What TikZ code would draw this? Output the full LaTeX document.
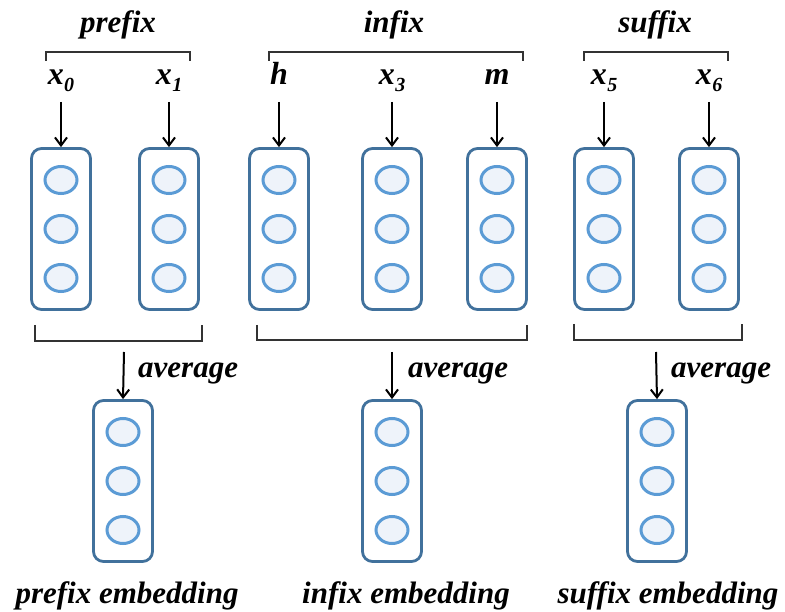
\documentclass[tikz,border=0pt]{standalone}
\usepackage{fontspec}
\setmainfont{Liberation Serif}
\newfontfamily\lbi{Liberation Serif}[UprightFont={* Bold Italic}]
\usetikzlibrary{arrows.meta,shapes.geometric}
\definecolor{boxc}{HTML}{41719C}
\definecolor{circc}{HTML}{5B9BD5}
\definecolor{fillc}{HTML}{EEF3FA}
\definecolor{brk}{HTML}{333333}
\newcommand{\xsub}[1]{x\kern0.5pt\raisebox{-7pt}{\fontsize{20}{20}\selectfont #1}}
\tikzset{
  vec/.style={draw=boxc, line width=2.8pt, rounded corners=10pt, minimum width=59pt, minimum height=161pt, inner sep=0pt, fill=white},
  unit/.style={ellipse, draw=circc, line width=3pt, fill=fillc, minimum width=32pt, minimum height=27pt, inner sep=0pt},
  lab/.style={font=\lbi\fontsize{31}{31}\selectfont, inner sep=0pt, anchor=base},
  xlab/.style={font=\lbi\fontsize{32}{32}\selectfont, inner sep=0pt, anchor=base},
  arr/.style={-{Straight Barb[length=8pt,width=12pt,line width=2pt]}, line width=2pt, black},
  bracket/.style={draw=brk, line width=2.4pt}
}
\begin{document}
\begin{tikzpicture}[x=1pt,y=-1pt]
\useasboundingbox (0,0) rectangle (785,612);
% top vectors
\foreach \n/\x in {b1/61, b2/169, b3/279, b4/392, b5/497, b6/604, b7/709}{
  \node[vec] (\n) at (\x,229) {};
  \foreach \k/\dy in {1/-49,2/0,3/49}
    \node[unit] (\n u\k) at (\x,229+\dy) {};
}
% bottom vectors
\foreach \n/\x in {e1/123, e2/392, e3/657}{
  \node[vec] (\n) at (\x,481) {};
  \foreach \k/\dy in {1/-49,2/0,3/49}
    \node[unit] (\n u\k) at (\x,481+\dy) {};
}
% titles
\node[lab] (tp) at (118,33) {prefix};
\node[lab] (ti) at (394,33) {infix};
\node[lab] (ts) at (655,33) {suffix};
% top brackets
\draw[bracket] (46,61) -- (46,52) -- (190,52) -- (190,61);
\draw[bracket] (269,61) -- (269,52) -- (523,52) -- (523,61);
\draw[bracket] (584,61) -- (584,52) -- (728,52) -- (728,61);
% input labels
\node[xlab] (l1) at (61,85) {\xsub{0}};
\node[xlab] (l2) at (169,85) {\xsub{1}};
\node[xlab] (l3) at (279,85) {h};
\node[xlab] (l4) at (392,85) {\xsub{3}};
\node[xlab] (l5) at (497,85) {m};
\node[xlab] (l6) at (604,85) {\xsub{5}};
\node[xlab] (l7) at (709,85) {\xsub{6}};
\foreach \i in {1,...,7}
  \draw[arr] ([yshift=-17pt]l\i.base) -- (b\i.north);
% bottom brackets
\draw[bracket] (35,325) -- (35,341) -- (202,341) -- (202,325);
\draw[bracket] (257,325) -- (257,340) -- (527,340) -- (527,325);
\draw[bracket] (574,324) -- (574,340) -- (742,340) -- (742,324);
% average arrows
\coordinate (a1) at (124,352);
\coordinate (a2) at (392,352);
\coordinate (a3) at (656,352);
\draw[arr] (a1) -- (e1.north);
\draw[arr] (a2) -- (e2.north);
\draw[arr] (a3) -- (e3.north);
\node[lab, anchor=base west] (v1) at (138,378) {average};
\node[lab, anchor=base west] (v2) at (408,378) {average};
\node[lab, anchor=base west] (v3) at (671,378) {average};
% embedding labels
\node[lab] (n1) at (127,603) {prefix embedding};
\node[lab] (n2) at (406,603) {infix embedding};
\node[lab] (n3) at (668,603) {suffix embedding};
\end{tikzpicture}
\end{document}
